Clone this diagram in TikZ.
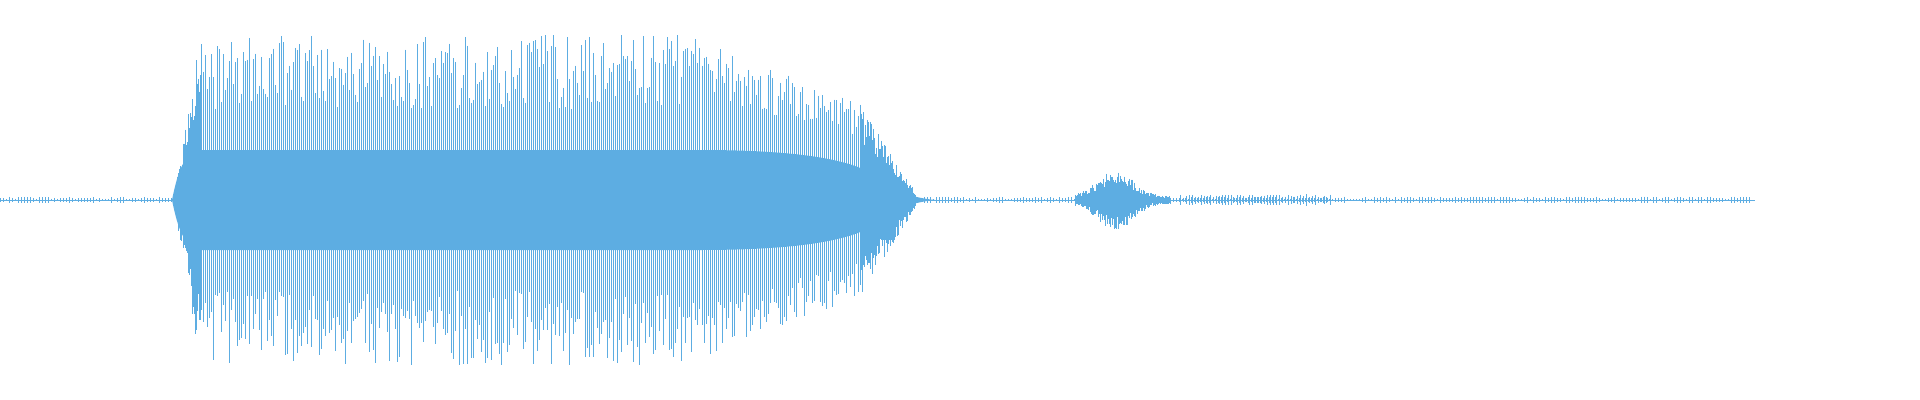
\documentclass[tikz,border=0pt]{standalone}
\definecolor{wave}{RGB}{93,173,226}
\begin{document}
\begin{tikzpicture}[x=0.05cm,y=-0.05cm,wl/.style={draw=wave,line width=0.35pt}]
\useasboundingbox (0,0) rectangle (1920,400);
\pgfmathsetseed{42}
\draw[wl] (0,200) -- (1755,200);
\foreach \x in {0,3,...,1750}{
  \pgfmathsetmacro\h{1+2.5*rnd}
  \draw[wl] (\x,200-\h) -- (\x,200+\h);
}
\fill[wave] (172,200) .. controls (178,170) and (185,152) .. (200,150) -- (700,150)
 .. controls (800,150) and (860,160) .. (880,180) .. controls (895,192) and (915,198) .. (935,200)
 .. controls (915,202) and (895,208) .. (880,220) .. controls (860,240) and (800,250) .. (700,250)
 -- (200,250) .. controls (185,248) and (178,230) .. (172,200) -- cycle;
\foreach \x in {176,...,200}{
  \pgfmathsetmacro\e{20+(\x-176)*6}
  \pgfmathsetmacro\a{\e*(0.6+0.4*rnd)}
  \pgfmathsetmacro\b{\e*(0.6+0.4*rnd)}
  \draw[wl] (\x,200-\a) -- (\x,200+\b);
}
\foreach \x in {201,203,...,700}{
  \pgfmathsetmacro\a{165*(0.55+0.45*rnd)}
  \pgfmathsetmacro\b{165*(0.55+0.45*rnd)}
  \draw[wl] (\x,200-\a) -- (\x,200+\b);
}
\foreach \x in {702,704,...,860}{
  \pgfmathsetmacro\e{160-(\x-700)*0.4}
  \pgfmathsetmacro\a{\e*(0.65+0.35*rnd)}
  \pgfmathsetmacro\b{\e*(0.65+0.35*rnd)}
  \draw[wl] (\x,200-\a) -- (\x,200+\b);
}
\foreach \x in {861,...,915}{
  \pgfmathsetmacro\e{96-(\x-860)*1.6}
  \pgfmathsetmacro\a{\e*(0.6+0.4*rnd)}
  \pgfmathsetmacro\b{\e*(0.6+0.4*rnd)}
  \draw[wl] (\x,200-\a) -- (\x,200+\b);
}
\foreach \x in {1075,...,1170}{
  \pgfmathsetmacro\e{4+26*exp(-((\x-1115)/25)^2)}
  \pgfmathsetmacro\a{\e*(0.5+0.5*rnd)}
  \pgfmathsetmacro\b{\e*(0.5+0.5*rnd)}
  \draw[wl] (\x,200-\a) -- (\x,200+\b);
}
\foreach \x in {1180,1183,...,1330}{
  \pgfmathsetmacro\a{2+4*rnd}
  \draw[wl] (\x,200-\a) -- (\x,200+\a);
}
\end{tikzpicture}
\end{document}
